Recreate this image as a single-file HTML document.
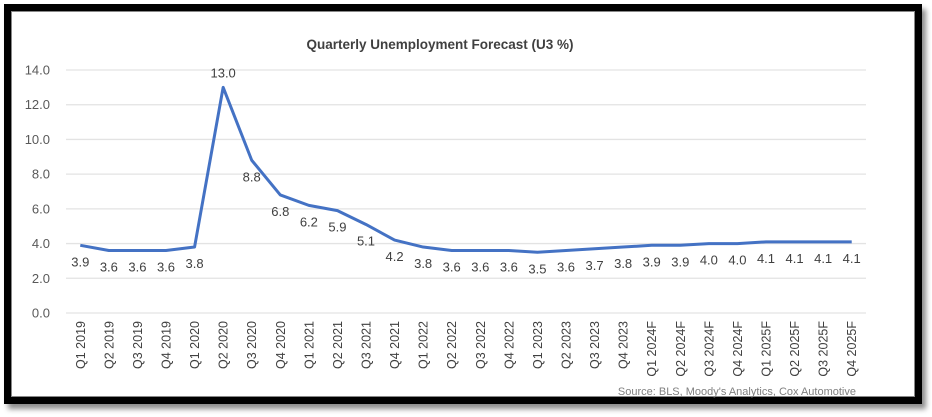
<!DOCTYPE html>
<html><head><meta charset="utf-8"><style>
body{margin:0;width:932px;height:417px;background:#fff;overflow:hidden;font-family:"Liberation Sans",Arial,sans-serif}
#frame{position:absolute;left:4px;top:4px;width:904px;height:386px;border:7px solid #000;box-shadow:4px 5px 5px rgba(0,0,0,0.45);background:#fff}
#frame:after{content:"";position:absolute;inset:0;border:1px solid #888}
svg{position:absolute;left:0;top:0}
</style></head><body>
<div id="frame"></div>
<svg id="chart" width="932" height="417">
<text x="440" y="49" text-anchor="middle" font-size="13.5" font-weight="bold" fill="#404040">Quarterly Unemployment Forecast (U3 %)</text>
<text x="856" y="395" text-anchor="end" font-size="11" fill="#808080">Source: BLS, Moody's Analytics, Cox Automotive</text>
</svg>
<script>
const categories=["Q1 2019","Q2 2019","Q3 2019","Q4 2019","Q1 2020","Q2 2020","Q3 2020","Q4 2020","Q1 2021","Q2 2021","Q3 2021","Q4 2021","Q1 2022","Q2 2022","Q3 2022","Q4 2022","Q1 2023","Q2 2023","Q3 2023","Q4 2023","Q1 2024F","Q2 2024F","Q3 2024F","Q4 2024F","Q1 2025F","Q2 2025F","Q3 2025F","Q4 2025F"];
const values=[3.9,3.6,3.6,3.6,3.8,13.0,8.8,6.8,6.2,5.9,5.1,4.2,3.8,3.6,3.6,3.6,3.5,3.6,3.7,3.8,3.9,3.9,4.0,4.0,4.1,4.1,4.1,4.1];
const yTicks=[0,2,4,6,8,10,12,14];
const NS="http://www.w3.org/2000/svg";
const svg=document.getElementById('chart');
const X0=66,X1=866,Y0=313,Y1=70;
const bw=(X1-X0)/categories.length;
const xs=i=>X0+bw*(i+0.5);
const ys=v=>Y0-(v-0)/(14-0)*(Y0-Y1);
function mk(t,a){const e=document.createElementNS(NS,t);for(const k in a)e.setAttribute(k,a[k]);svg.appendChild(e);return e;}
yTicks.forEach(t=>{
 const g=mk('line',{x1:X0,x2:X1,y1:ys(t),y2:ys(t),stroke:'#e3e3e3','stroke-width':1.3});
 
 
 const l=mk('text',{x:50,y:ys(t)+4.5,'text-anchor':'end','font-size':13,fill:'#595959'});
 l.textContent=t.toFixed(1);
 
 
});
const line=mk('polyline',{points:values.map((v,i)=>xs(i)+','+ys(v)).join(' '),fill:'none',stroke:'#4472c4','stroke-width':3,'stroke-linejoin':'round'});


values.forEach((v,i)=>{
 const peak=v===Math.max(...values);
 const t=mk('text',{x:xs(i),y:peak?ys(v)-10:ys(v)+21,'text-anchor':'middle','font-size':13,fill:'#404040'});
 t.textContent=v.toFixed(1);
 
 
});
categories.forEach((c,i)=>{
 const t=mk('text',{x:0,y:0,'text-anchor':'end','font-size':12.5,fill:'#404040',transform:`translate(${xs(i)+4.5},321) rotate(-90)`});
 t.textContent=c;
 
 
});
</script>
</body></html>
